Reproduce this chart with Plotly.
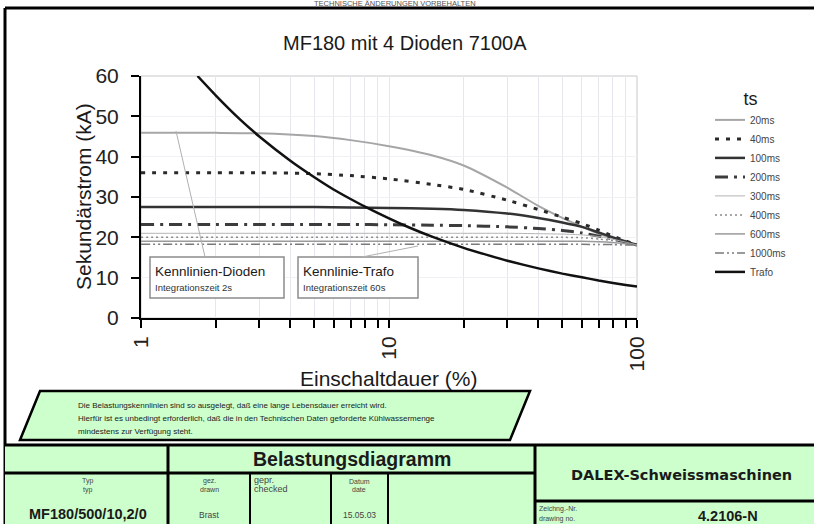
import plotly.graph_objects as go

# ---------------- data ----------------
x_diode = [1, 2, 3, 5, 7, 10, 15, 20, 30, 40, 50, 60, 70, 80, 90, 100]
i_20ms = [45.9, 45.9, 45.8, 45.1, 44.1, 42.6, 40.3, 37.8, 32.3, 27.8, 24.8, 22.6, 20.9, 19.8, 18.9, 18.1]
i_40ms = [36.0, 36.0, 36.0, 35.8, 35.3, 34.5, 33.1, 31.9, 29.2, 26.9, 25.0, 23.4, 21.8, 20.3, 19.1, 18.1]
i_100ms = [27.5, 27.5, 27.5, 27.5, 27.4, 27.3, 27.1, 26.8, 25.9, 24.8, 23.7, 22.6, 21.2, 20.0, 19.0, 18.1]
i_200ms = [23.2, 23.2, 23.2, 23.2, 23.2, 23.1, 23.0, 22.9, 22.6, 22.2, 21.7, 21.1, 20.3, 19.6, 18.8, 18.1]
i_300ms = [21.0, 21.0, 21.0, 21.0, 21.0, 21.0, 21.0, 21.0, 21.0, 20.9, 20.8, 20.6, 20.2, 19.5, 18.8, 18.1]
i_400ms = [20.0, 20.0, 20.0, 20.0, 20.0, 20.0, 20.0, 20.0, 20.0, 20.0, 20.0, 19.9, 19.6, 19.2, 18.7, 18.1]
i_600ms = [19.0, 19.0, 19.0, 19.0, 19.0, 19.0, 19.0, 19.0, 19.0, 19.0, 19.0, 19.0, 18.9, 18.7, 18.4, 18.1]
i_1000ms = [18.3, 18.3, 18.3, 18.3, 18.3, 18.3, 18.3, 18.3, 18.3, 18.3, 18.3, 18.3, 18.2, 18.2, 18.1, 18.1]

x_trafo = [1.69, 2, 2.5, 3, 4, 5, 6, 7, 8, 10, 12, 15, 20, 25, 30, 40, 50, 60, 70, 80, 90, 100]
i_trafo = [60.0, 55.2, 49.3, 45.0, 39.0, 34.9, 31.8, 29.5, 27.6, 24.7, 22.5, 20.1, 17.4, 15.6,
           14.2, 12.3, 11.0, 10.1, 9.3, 8.7, 8.2, 7.8]

series_names = ["20ms", "40ms", "100ms", "200ms", "300ms", "400ms", "600ms", "1000ms"]
series_values = [i_20ms, i_40ms, i_100ms, i_200ms, i_300ms, i_400ms, i_600ms, i_1000ms]

x_tick_vals = [1, 10, 100]
x_tick_text = ["1", "10", "100"]
x_minor_vals = [2, 3, 4, 5, 6, 7, 8, 9, 20, 30, 40, 50, 60, 70, 80, 90]
y_tick_vals = [0, 10, 20, 30, 40, 50, 60]

# ---------------- styles ----------------
styles = {
    "20ms": dict(color="#a6a6a6", width=2, dash="solid"),
    "40ms": dict(color="#2a2a2a", width=3, dash="4px,7px"),
    "100ms": dict(color="#333333", width=2.5, dash="solid"),
    "200ms": dict(color="#3c3c3c", width=3, dash="13px,6px,3px,6px"),
    "300ms": dict(color="#b4b4b4", width=1, dash="solid"),
    "400ms": dict(color="#8a8a8a", width=1.5, dash="2px,3px"),
    "600ms": dict(color="#9a9a9a", width=1.5, dash="solid"),
    "1000ms": dict(color="#7a7a7a", width=1.5, dash="9px,3px,2px,3px,2px,3px"),
}
FONT = "Liberation Sans, Arial, sans-serif"

W, H = 814, 524
L, R, T, B = 141, 637, 76, 318


def px(x):
    return (x - L) / (R - L)


def py(y):
    return (B - y) / (B - T)


fig = go.Figure()
for name, vals in zip(series_names, series_values):
    fig.add_trace(go.Scatter(x=x_diode, y=vals, mode="lines", name=name,
                             line=dict(shape="spline", smoothing=0.6, **styles[name])))
fig.add_trace(go.Scatter(x=x_trafo, y=i_trafo, mode="lines", name="Trafo",
                         line=dict(color="#111111", width=2.5, shape="spline", smoothing=0.5)))

shapes = []


def line(x0, y0, x1, y1, color="black", width=3, layer="above"):
    shapes.append(dict(type="line", xref="paper", yref="paper", x0=px(x0), y0=py(y0),
                       x1=px(x1), y1=py(y1), line=dict(color=color, width=width), layer=layer))


def rect(x0, y0, x1, y1, fill=None, color="black", width=2, layer="above"):
    shapes.append(dict(type="rect", xref="paper", yref="paper", x0=px(x0), y0=py(y0),
                       x1=px(x1), y1=py(y1), fillcolor=fill,
                       line=dict(color=color, width=width), layer=layer))


GREEN = "#ccffcc"
# plot area light border
rect(L, T, R, B, fill=None, color="#c8c8c8", width=1, layer="below")
# outer frame
line(5, 8, 830, 8, width=3)
line(5, 8, 5, 530, width=3)
# note parallelogram
shapes.append(dict(type="path", xref="paper", yref="paper",
                   path=f"M {px(40)},{py(391)} L {px(530)},{py(391)} L {px(510)},{py(440)} L {px(20)},{py(440)} Z",
                   fillcolor=GREEN, line=dict(color="black", width=2.5), layer="above"))
# title block
rect(5, 445, 830, 540, fill=GREEN, color=GREEN, width=0)
line(5, 445, 830, 445, width=3)
line(5, 473, 535, 473, width=3)
line(535, 501, 830, 501, width=3)
line(168, 445, 168, 530, width=3)
line(535, 445, 535, 530, width=3)
line(250, 473, 250, 530, width=2)
line(331, 473, 331, 530, width=2)
line(388, 473, 388, 530, width=2)
# annotation boxes + callout lines
rect(150, 257, 284, 298, fill="white", color="#8c8c8c", width=1.5)
rect(298, 257, 418, 298, fill="white", color="#8c8c8c", width=1.5)
line(176, 131, 205, 257, color="#b0b0b0", width=1)
line(362, 257, 418, 246, color="#b0b0b0", width=1)

annotations = []


def ann(x, y, text, size, xanchor="center", color="#1a1a1a", family=FONT, textangle=0, yanchor="middle"):
    annotations.append(dict(xref="paper", yref="paper", x=px(x), y=py(y), text=text,
                            showarrow=False, xanchor=xanchor, yanchor=yanchor, textangle=textangle,
                            font=dict(size=size, color=color, family=family)))


ann(395, 3.5, "TECHNISCHE ÄNDERUNGEN VORBEHALTEN", 7.5, color="#555")
ann(405, 43, "MF180 mit 4 Dioden 7100A", 20)
ann(83, 197, "Sekundärstrom (kA)", 21, textangle=-90)
ann(388, 378, "Einschaltdauer (%)", 21)
ann(153, 271, "Kennlinien-Dioden", 13.5, xanchor="left")
ann(153, 287, "Integrationszeit 2s", 9.5, xanchor="left", color="#333")
ann(301, 271, "Kennlinie-Trafo", 13.5, xanchor="left")
ann(301, 287, "Integrationszeit 60s", 9.5, xanchor="left", color="#333")
ann(76, 405.5, "Die Belastungskennlinien sind so ausgelegt, daß eine lange Lebensdauer erreicht wird.", 8, xanchor="left")
ann(76, 418.5, "Hierfür ist es unbedingt erforderlich, daß die in den Technischen Daten geforderte Kühlwassermenge", 8, xanchor="left")
ann(76, 431, "mindestens zur Verfügung steht.", 8, xanchor="left")
ann(352, 459, "<b>Belastungsdiagramm</b>", 19.5)
ann(681, 475, "<b>DALEX-Schweissmaschinen</b>", 14.5, family="DejaVu Sans, Verdana, sans-serif")
ann(87, 481, "Typ", 7, color="#444")
ann(87, 490, "typ", 7, color="#444")
ann(88, 514, "<b>MF180/500/10,2/0</b>", 14.5)
ann(209, 481, "gez.", 7, color="#444")
ann(209, 490, "drawn", 7, color="#444")
ann(209, 515, "Brast", 8.5, color="#444")
ann(252, 480, "gepr.", 9, xanchor="left", color="#444")
ann(252, 489, "checked", 9, xanchor="left", color="#444")
ann(359, 481, "Datum", 7, color="#444")
ann(359, 490, "date", 7, color="#444")
ann(359, 515, "15.05.03", 8.5, color="#444")
ann(537, 509, "Zeichng.-Nr.", 7, xanchor="left", color="#444")
ann(537, 519, "drawing no.", 7, xanchor="left", color="#444")
ann(728, 516, "<b>4.2106-N</b>", 14.5)

fig.update_layout(
    width=W, height=H,
    margin=dict(l=L, r=W - R, t=T, b=H - B, pad=0, autoexpand=False),
    paper_bgcolor="white", plot_bgcolor="white",
    font=dict(family=FONT, color="#1a1a1a"),
    shapes=shapes, annotations=annotations,
    showlegend=True,
    legend=dict(x=px(710), y=py(82), xanchor="left", yanchor="top",
                font=dict(size=10, color="#444"), bgcolor="rgba(0,0,0,0)",
                title=dict(text="ts", side="top center", font=dict(size=18, color="#1a1a1a")),
                itemwidth=30, tracegroupgap=0),
)
fig.update_xaxes(type="log", range=[0, 2], tickvals=x_tick_vals, ticktext=x_tick_text,
                 ticks="outside", ticklen=8, tickwidth=2, tickcolor="black",
                 tickangle=-90, tickfont=dict(size=21, color="#222"),
                 showline=True, linecolor="black", linewidth=2,
                 showgrid=True, gridcolor="#e6e6ee", gridwidth=1, zeroline=False,
                 minor=dict(tickvals=x_minor_vals, ticks="outside", ticklen=8, tickwidth=2,
                            tickcolor="black", showgrid=True, gridcolor="#e6e6ee", gridwidth=1))
fig.update_yaxes(range=[0, 60], tickvals=y_tick_vals, ticks="outside", ticklen=8, tickwidth=2,
                 tickcolor="black", tickfont=dict(size=21, color="#222"), ticklabelstandoff=8,
                 showline=True, linecolor="black", linewidth=2,
                 showgrid=True, gridcolor="#f0f0f5", gridwidth=1, zeroline=False)

fig.write_html("out.html", config={"displayModeBar": False},
               post_script="document.body.style.margin='0';document.body.style.overflow='hidden';")
